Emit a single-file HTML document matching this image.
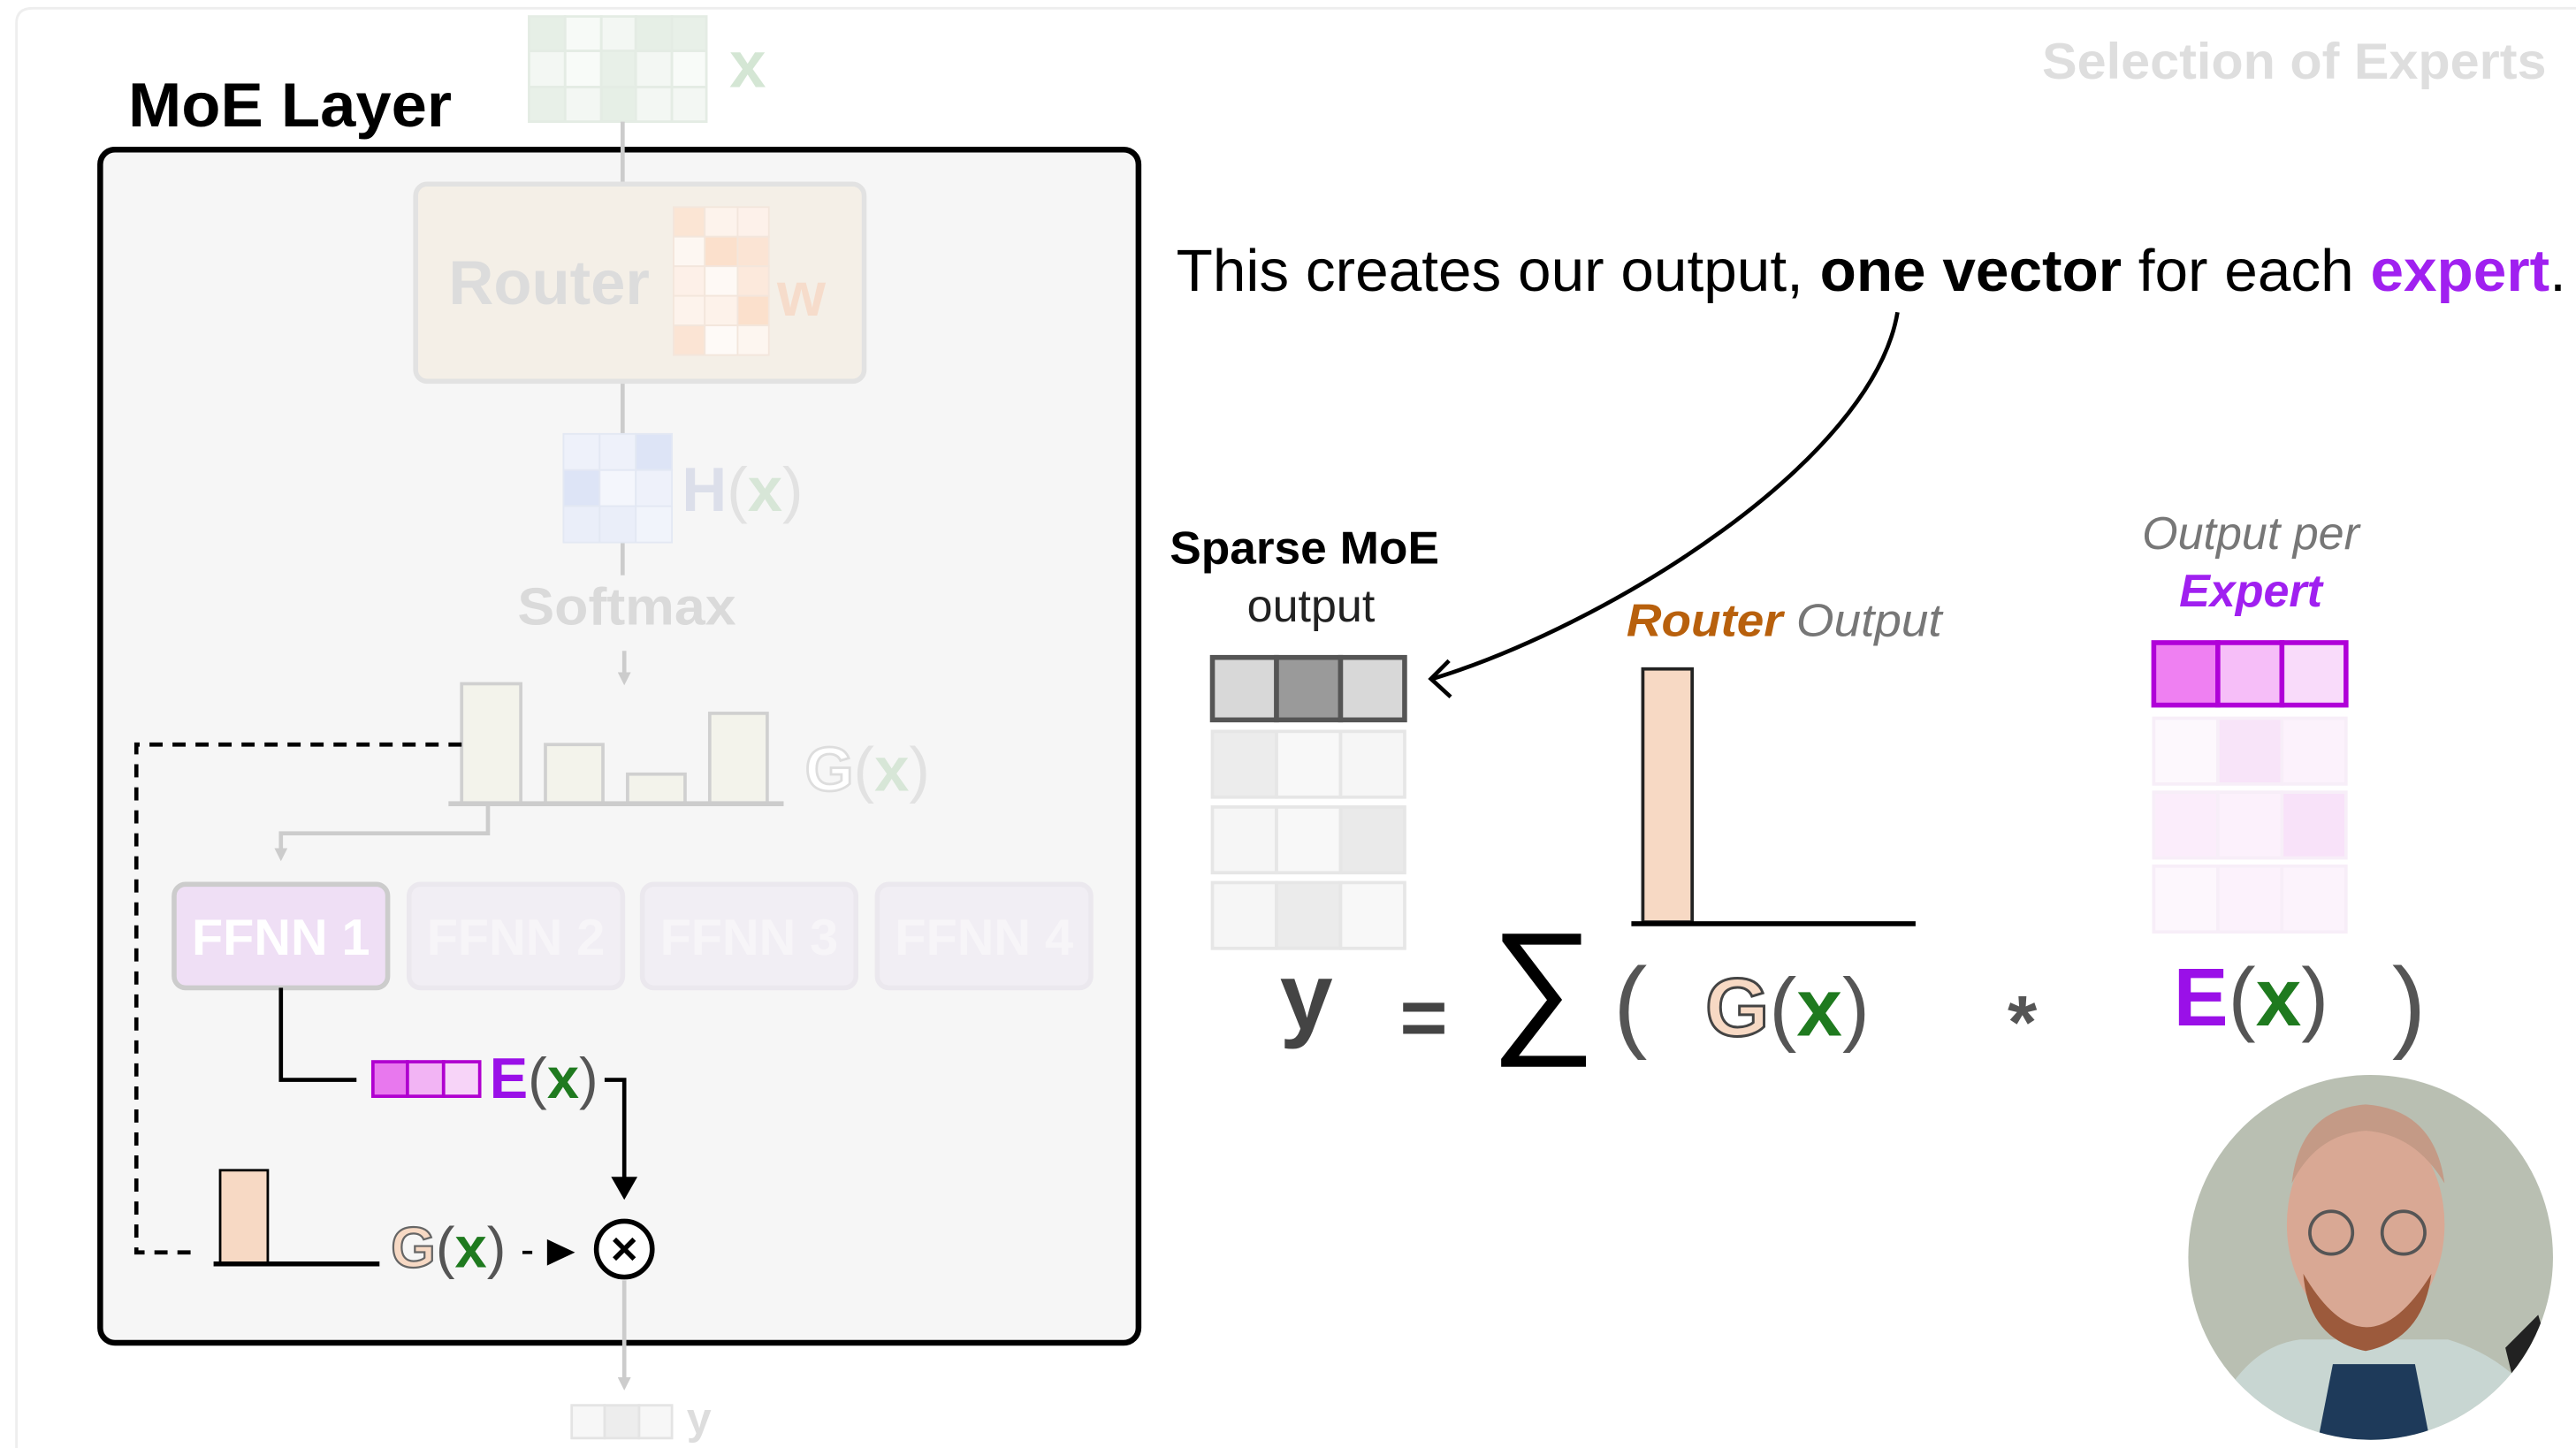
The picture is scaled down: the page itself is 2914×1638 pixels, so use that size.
<!DOCTYPE html>
<html><head><meta charset="utf-8"><style>
html,body{margin:0;padding:0;background:#fff;}
svg{display:block;}
text{font-family:"Liberation Sans",sans-serif;}
</style></head><body>
<svg width="2914" height="1638" viewBox="0 0 1568 881" preserveAspectRatio="none" xmlns="http://www.w3.org/2000/svg">
<defs>
<marker id="ag" markerWidth="8" markerHeight="8" refX="4" refY="4" orient="auto" markerUnits="userSpaceOnUse"><path d="M0,0 L8,4 L0,8z" fill="#ccc"/></marker>
</defs>
<rect x="0" y="0" width="1568" height="881" fill="#fff"/>
<path d="M10,881 L10,14 Q10,5 20,5 L1568,5" fill="none" stroke="#eee" stroke-width="1.5"/>

<text x="78" y="77" font-size="38" font-weight="bold" fill="#000" textLength="197" lengthAdjust="spacingAndGlyphs">MoE Layer</text>
<rect x="61" y="91" width="632" height="726" rx="9" fill="#f6f6f6" stroke="#000" stroke-width="3.5"/>

<g stroke="#e4ece4" stroke-width="1.5">
<rect x="322" y="10" width="22" height="21" fill="#e6efe6"/><rect x="344" y="10" width="22" height="21" fill="#f7faf7"/><rect x="366" y="10" width="21" height="21" fill="#f3f7f3"/><rect x="387" y="10" width="22" height="21" fill="#e6efe6"/><rect x="409" y="10" width="21" height="21" fill="#e8f0e8"/>
<rect x="322" y="31" width="22" height="22" fill="#f3f7f3"/><rect x="344" y="31" width="22" height="22" fill="#f8fbf8"/><rect x="366" y="31" width="21" height="22" fill="#e8f0e8"/><rect x="387" y="31" width="22" height="22" fill="#f3f7f3"/><rect x="409" y="31" width="21" height="22" fill="#f8fbf8"/>
<rect x="322" y="53" width="22" height="21" fill="#e8f0e8"/><rect x="344" y="53" width="22" height="21" fill="#f3f7f3"/><rect x="366" y="53" width="21" height="21" fill="#e6efe6"/><rect x="387" y="53" width="22" height="21" fill="#f3f7f3"/><rect x="409" y="53" width="21" height="21" fill="#f3f7f3"/>
</g>
<text x="444" y="53" font-size="40" font-weight="bold" fill="#d4e6d4">x</text>
<g stroke="#ccc" stroke-width="2.5">
<line x1="379" y1="74" x2="379" y2="112"/><line x1="379" y1="233" x2="379" y2="265"/><line x1="379" y1="330" x2="379" y2="350"/>
</g>
<rect x="253" y="112" width="273" height="120" rx="7" fill="#f4efe7" stroke="#e2e2e2" stroke-width="3"/>
<text x="273" y="185" font-size="38" font-weight="bold" fill="#dcdcdc">Router</text>
<g stroke="#f3e6dc" stroke-width="1">
<rect x="410" y="126" width="19" height="18" fill="#fbe5d4"/><rect x="429" y="126" width="20" height="18" fill="#fdf3ec"/><rect x="449" y="126" width="19" height="18" fill="#fdf1ea"/>
<rect x="410" y="144" width="19" height="18" fill="#fdf7f2"/><rect x="429" y="144" width="20" height="18" fill="#fbe0cc"/><rect x="449" y="144" width="19" height="18" fill="#fbe4d4"/>
<rect x="410" y="162" width="19" height="18" fill="#fdf0e8"/><rect x="429" y="162" width="20" height="18" fill="#fef9f5"/><rect x="449" y="162" width="19" height="18" fill="#fce9dc"/>
<rect x="410" y="180" width="19" height="18" fill="#fdf3ec"/><rect x="429" y="180" width="20" height="18" fill="#fdf2ea"/><rect x="449" y="180" width="19" height="18" fill="#fbe0cc"/>
<rect x="410" y="198" width="19" height="18" fill="#fbe4d4"/><rect x="429" y="198" width="20" height="18" fill="#fefaf7"/><rect x="449" y="198" width="19" height="18" fill="#fdf6f0"/>
</g>
<text x="473" y="192" font-size="38" font-weight="bold" fill="#f6dccb">w</text>
<g stroke="#e3e8f3" stroke-width="1">
<rect x="343" y="264" width="22" height="22" fill="#eef1fa"/><rect x="365" y="264" width="22" height="22" fill="#eef1fa"/><rect x="387" y="264" width="22" height="22" fill="#dde4f6"/>
<rect x="343" y="286" width="22" height="22" fill="#dde4f6"/><rect x="365" y="286" width="22" height="22" fill="#f4f6fc"/><rect x="387" y="286" width="22" height="22" fill="#eef1fa"/>
<rect x="343" y="308" width="22" height="22" fill="#eaeef9"/><rect x="365" y="308" width="22" height="22" fill="#eaeef9"/><rect x="387" y="308" width="22" height="22" fill="#f1f4fb"/>
</g>
<text x="415" y="311" font-size="38" font-weight="bold" fill="#dcdfea">H<tspan font-weight="normal" fill="#e2e2e2">(</tspan><tspan fill="#d7e6d7">x</tspan><tspan font-weight="normal" fill="#e2e2e2">)</tspan></text>
<text x="315" y="380" font-size="32" font-weight="bold" fill="#dadada" textLength="133" lengthAdjust="spacingAndGlyphs">Softmax</text>
<line x1="380" y1="396" x2="380" y2="413" stroke="#ccc" stroke-width="2.5" marker-end="url(#ag)"/>
<g fill="#f3f3eb" stroke="#d0d0d0" stroke-width="2">
<rect x="281" y="416" width="36" height="73"/><rect x="332" y="453" width="35" height="36"/><rect x="382" y="471" width="35" height="18"/><rect x="432" y="434" width="35" height="55"/>
</g>
<line x1="273" y1="489" x2="477" y2="489" stroke="#ccc" stroke-width="3"/>
<text x="490" y="481" font-size="38" font-weight="bold" fill="#fff" stroke="#ddd" stroke-width="1.5">G<tspan font-weight="normal" fill="#e2e2e2" stroke="none">(</tspan><tspan fill="#d7e6d7" stroke="none">x</tspan><tspan font-weight="normal" fill="#e2e2e2" stroke="none">)</tspan></text>
<path d="M297,489 V507 H171 V520" fill="none" stroke="#ccc" stroke-width="2.5" marker-end="url(#ag)"/>
<path d="M281,453 H83 V762 H122" fill="none" stroke="#000" stroke-width="2.5" stroke-dasharray="8,6"/>

<rect x="106" y="538" width="130" height="63" rx="7" fill="#efdff5" stroke="#ccc" stroke-width="3"/>
<text x="171" y="581" font-size="31" font-weight="bold" fill="#fff" text-anchor="middle">FFNN 1</text>
<g fill="#f1eef4" stroke="#ebe8ee" stroke-width="3">
<rect x="249" y="538" width="130" height="63" rx="7"/><rect x="391" y="538" width="130" height="63" rx="7"/><rect x="534" y="538" width="130" height="63" rx="7"/>
</g>
<g font-size="31" font-weight="bold" fill="#f7f5f8" text-anchor="middle">
<text x="314" y="581">FFNN 2</text><text x="456" y="581">FFNN 3</text><text x="599" y="581">FFNN 4</text>
</g>
<path d="M171,601 V657 H217" fill="none" stroke="#000" stroke-width="2.5"/>
<g stroke="#b000d0" stroke-width="2"><rect x="227" y="646" width="21" height="21" fill="#e878ee"/><rect x="248" y="646" width="22" height="21" fill="#f2b4f4"/><rect x="270" y="646" width="22" height="21" fill="#f7d4f8"/></g>
<text x="298" y="668" font-size="35" font-weight="bold" fill="#9a10e8">E<tspan font-weight="normal" fill="#555">(</tspan><tspan fill="#1f7a1f">x</tspan><tspan font-weight="normal" fill="#555">)</tspan></text>
<path d="M368,657 H380 V718" fill="none" stroke="#000" stroke-width="2.5"/>
<path d="M372,716 L388,716 L380,730z" fill="#000"/>
<rect x="134" y="712" width="29" height="57" fill="#f7d9c4" stroke="#000" stroke-width="1.5"/>
<line x1="130" y1="769" x2="231" y2="769" stroke="#000" stroke-width="3"/>
<text x="238" y="771" font-size="35" font-weight="bold" fill="#f7d9c4" stroke="#666" stroke-width="1.2">G<tspan font-weight="normal" fill="#555" stroke="none">(</tspan><tspan fill="#1f7a1f" stroke="none">x</tspan><tspan font-weight="normal" fill="#555" stroke="none">)</tspan></text>
<line x1="318" y1="762" x2="324" y2="762" stroke="#000" stroke-width="2"/>
<path d="M333,754 L350,762 L333,770z" fill="#000"/>
<circle cx="380" cy="760" r="17" fill="#fff" stroke="#000" stroke-width="3"/>
<path d="M374,754 L386,766 M386,754 L374,766" stroke="#000" stroke-width="3"/>
<line x1="380" y1="779" x2="380" y2="842" stroke="#ccc" stroke-width="2.5" marker-end="url(#ag)"/>
<g stroke="#e4e4e4" stroke-width="1.5"><rect x="348" y="855" width="20" height="20" fill="#f7f7f7"/><rect x="368" y="855" width="21" height="20" fill="#ededed"/><rect x="389" y="855" width="20" height="20" fill="#f7f7f7"/></g>
<text x="418" y="872" font-size="27" font-weight="bold" fill="#ddd">y</text>

<text x="1550" y="48" font-size="31" font-weight="bold" fill="#dedede" text-anchor="end" textLength="307" lengthAdjust="spacingAndGlyphs">Selection of Experts</text>
<text x="716" y="177" font-size="36" fill="#000" textLength="846" lengthAdjust="spacingAndGlyphs">This creates our output, <tspan font-weight="bold">one vector</tspan> for each <tspan font-weight="bold" fill="#a020f0">expert</tspan>.</text>
<path d="M1155,190 C1140,280 980,380 872,413" fill="none" stroke="#000" stroke-width="2.5"/>
<path d="M882,402 L871,413 L883,424" fill="none" stroke="#000" stroke-width="2.5"/>

<text x="794" y="343" font-size="28" font-weight="bold" fill="#000" text-anchor="middle" textLength="164" lengthAdjust="spacingAndGlyphs">Sparse MoE</text>
<text x="798" y="378" font-size="28" fill="#222" text-anchor="middle">output</text>
<g stroke="#555" stroke-width="3"><rect x="738" y="400" width="39" height="38" fill="#d8d8d8"/><rect x="777" y="400" width="39" height="38" fill="#9a9a9a"/><rect x="816" y="400" width="39" height="38" fill="#d8d8d8"/></g>
<g stroke="#e6e6e6" stroke-width="2">
<rect x="738" y="445" width="39" height="40" fill="#ececec"/><rect x="777" y="445" width="39" height="40" fill="#f8f8f8"/><rect x="816" y="445" width="39" height="40" fill="#f6f6f6"/>
<rect x="738" y="491" width="39" height="40" fill="#f6f6f6"/><rect x="777" y="491" width="39" height="40" fill="#f8f8f8"/><rect x="816" y="491" width="39" height="40" fill="#eaeaea"/>
<rect x="738" y="537" width="39" height="40" fill="#f6f6f6"/><rect x="777" y="537" width="39" height="40" fill="#ebebeb"/><rect x="816" y="537" width="39" height="40" fill="#f8f8f8"/>
</g>

<text x="990" y="387" font-size="28" font-style="italic" fill="#777" textLength="192" lengthAdjust="spacingAndGlyphs"><tspan font-weight="bold" fill="#b8600c">Router</tspan> Output</text>
<rect x="1000" y="407" width="30" height="154" fill="#f7d9c4" stroke="#222" stroke-width="2"/>
<line x1="993" y1="562" x2="1166" y2="562" stroke="#000" stroke-width="3"/>

<text x="1370" y="334" font-size="28" font-style="italic" fill="#777" text-anchor="middle">Output per</text>
<text x="1370" y="369" font-size="28" font-style="italic" font-weight="bold" fill="#a020f0" text-anchor="middle">Expert</text>
<g stroke="#b000d8" stroke-width="3"><rect x="1311" y="391" width="39" height="38" fill="#ef80f2"/><rect x="1350" y="391" width="39" height="38" fill="#f6bef8"/><rect x="1389" y="391" width="39" height="38" fill="#f9dbfa"/></g>
<g stroke="#f7eef8" stroke-width="2">
<rect x="1311" y="437" width="39" height="40" fill="#fdf8fd"/><rect x="1350" y="437" width="39" height="40" fill="#f8e4f9"/><rect x="1389" y="437" width="39" height="40" fill="#fcf2fc"/>
<rect x="1311" y="482" width="39" height="40" fill="#fbedfb"/><rect x="1350" y="482" width="39" height="40" fill="#fcf1fc"/><rect x="1389" y="482" width="39" height="40" fill="#f8e2f9"/>
<rect x="1311" y="527" width="39" height="40" fill="#fdf7fd"/><rect x="1350" y="527" width="39" height="40" fill="#fcf2fc"/><rect x="1389" y="527" width="39" height="40" fill="#fcf3fc"/>
</g>

<text x="779" y="626" font-size="58" font-weight="bold" fill="#444">y</text>
<text x="852" y="636" font-size="50" font-weight="bold" fill="#444">=</text>
<text x="907" y="630" font-size="90" fill="#000">∑</text>
<text x="982" y="632" font-size="62" fill="#555">(</text>
<text x="1038" y="630" font-size="50" font-weight="bold" fill="#f7d9c4" stroke="#444" stroke-width="1.6">G<tspan font-weight="normal" fill="#555" stroke="none">(</tspan><tspan fill="#1f7a1f" stroke="none">x</tspan><tspan font-weight="normal" fill="#555" stroke="none">)</tspan></text>
<text x="1222" y="638" font-size="46" font-weight="bold" fill="#555">*</text>
<text x="1323" y="624" font-size="50" font-weight="bold" fill="#9a10e8">E<tspan font-weight="normal" fill="#555">(</tspan><tspan fill="#1f7a1f">x</tspan><tspan font-weight="normal" fill="#555">)</tspan></text>
<text x="1456" y="632" font-size="62" fill="#555">)</text>

<clipPath id="cp"><ellipse cx="1443" cy="765" rx="111" ry="111"/></clipPath>
<g clip-path="url(#cp)">
<rect x="1330" y="650" width="230" height="230" fill="#b9bfb2"/>
<path d="M1340,881 Q1360,820 1400,815 L1490,815 Q1540,830 1560,881z" fill="#c8d6d2"/>
<path d="M1410,881 L1420,830 L1470,830 L1480,881z" fill="#1e3a5a"/>
<ellipse cx="1440" cy="745" rx="48" ry="65" fill="#d9a894"/>
<path d="M1395,720 Q1400,675 1440,672 Q1482,675 1488,720 Q1470,690 1440,688 Q1410,690 1395,720z" fill="#c49a86"/>
<path d="M1402,775 Q1440,840 1480,775 Q1475,815 1440,822 Q1405,815 1402,775z" fill="#9c5a3c"/>
<circle cx="1419" cy="750" r="13" fill="none" stroke="#555" stroke-width="2"/>
<circle cx="1463" cy="750" r="13" fill="none" stroke="#555" stroke-width="2"/>
<path d="M1525,820 L1545,800 L1560,850 L1540,881z" fill="#222"/>
</g>
</svg>
</body></html>
